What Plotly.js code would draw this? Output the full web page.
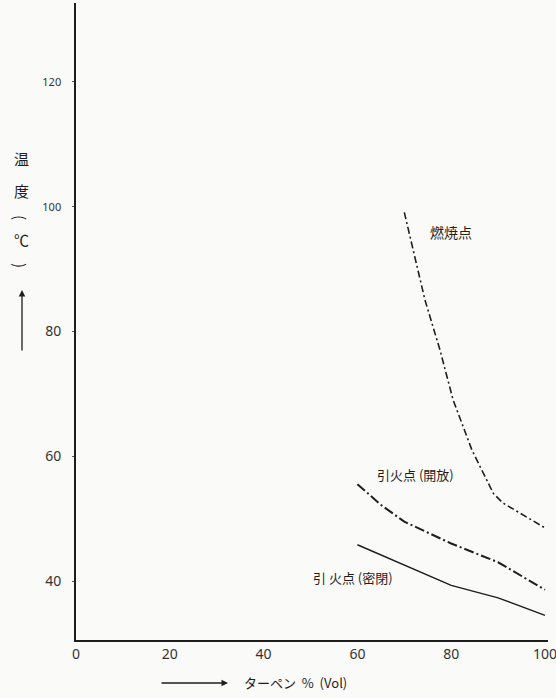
<!DOCTYPE html>
<html><head><meta charset="utf-8">
<script src="https://cdn.plot.ly/plotly-3.0.1.min.js"></script>
<style>html,body{margin:0;padding:0;background:#fafaf8;}</style>
</head><body>
<div id="chart" style="width:556px;height:698px;"></div>
<script>
// Data
const xTicks = [0, 20, 40, 60, 80, 100];
const yTicks = [40, 60, 80, 100, 120];

const burnX = [70, 74.4, 77.6, 80.4, 84.4, 89, 91, 100];
const burnY = [99, 85, 77, 69, 61, 54, 52.5, 48.5];

const openX = [60, 65, 70, 80, 90, 100];
const openY = [55.5, 52.2, 49.5, 46, 43, 38.6];

const closedX = [60, 70, 80, 90, 100];
const closedY = [45.8, 42.5, 39.3, 37.3, 34.5];

const labelBurn = "燃焼点";
const labelOpen = "引火点 (開放)";
const labelClosed = "引 火点 (密閉)";
const xTitle = "ターペン  %  (Vol)";
const yTitleChars = ["温", "度", "(", "℃", ")"];

const JP = '"Noto Sans CJK JP", "Noto Sans", sans-serif';
const NUM = '"Noto Sans", "DejaVu Sans", sans-serif';
const ink = "#1e1e1e";

const L = 76, R = 8, T = 3, B = 58, W = 556, H = 698;
const pw = W - L - R, ph = H - T - B;
const px2x = p => (p - L) / pw;
const py2y = p => (H - B - p) / ph;

const traces = [
  {x: burnX, y: burnY, mode: "lines", line: {color: ink, width: 1.6, dash: "7px,3px,2px,3px"}, hoverinfo: "skip"},
  {x: openX, y: openY, mode: "lines", line: {color: ink, width: 2, dash: "10px,3px,2px,3px"}, hoverinfo: "skip"},
  {x: closedX, y: closedY, mode: "lines", line: {color: ink, width: 1.5}, hoverinfo: "skip"}
];

const annotations = [
  {x: 80, y: 95.8, xref: "x", yref: "y", xanchor: "center", yanchor: "middle", text: labelBurn, showarrow: false, font: {family: JP, size: 14, color: ink}},
  {x: 72.3, y: 57, xref: "x", yref: "y", xanchor: "center", yanchor: "middle", text: labelOpen, showarrow: false, font: {family: JP, size: 13, color: ink}},
  {x: 59.1, y: 40.5, xref: "x", yref: "y", xanchor: "center", yanchor: "middle", text: labelClosed, showarrow: false, font: {family: JP, size: 13, color: ink}},
  {x: px2x(242), y: py2y(683), xref: "paper", yref: "paper", xanchor: "left", yanchor: "middle", text: xTitle, showarrow: false, font: {family: JP, size: 13, color: ink}},
  // x-title arrow
  {x: px2x(228), y: py2y(683), xref: "paper", yref: "paper", ax: -68, ay: 0, text: "", showarrow: true, arrowhead: 2, arrowsize: 1, arrowwidth: 1.3, arrowcolor: ink},
  // y-title arrow
  {x: px2x(22), y: py2y(290), xref: "paper", yref: "paper", ax: 0, ay: 62, text: "", showarrow: true, arrowhead: 2, arrowsize: 1, arrowwidth: 1.3, arrowcolor: ink}
];
const yCharPos = [158, 190, 217, 239, 265];
const yCharAngle = [0, 0, 90, 0, 90];
yTitleChars.forEach((c, i) => {
  annotations.push({x: px2x(21), y: py2y(yCharPos[i]), xref: "paper", yref: "paper", xanchor: "center", yanchor: "middle",
    text: c, textangle: yCharAngle[i], showarrow: false, font: {family: JP, size: 15, color: ink}});
});

const yTickText = yTicks.map(v => v >= 100 ? '<span style="font-size:11px">' + v + '</span>' : String(v));

const layout = {
  width: W, height: H,
  margin: {l: L, r: R, t: T, b: B},
  paper_bgcolor: "#fafaf8", plot_bgcolor: "#fafaf8",
  showlegend: false,
  xaxis: {range: [0, 100.64], tickvals: xTicks, ticktext: xTicks.map(String), showgrid: false, zeroline: false,
          showline: true, linecolor: ink, linewidth: 2, ticks: "", ticklabeloverflow: "allow",
          tickfont: {family: NUM, size: 14, color: "#333"}},
  yaxis: {range: [30.56, 132.5], tickvals: yTicks, ticktext: yTickText, showgrid: false, zeroline: false,
          showline: true, linecolor: ink, linewidth: 2, ticks: "outside", ticklen: 2, tickcolor: "#555",
          ticklabelstandoff: 8, tickfont: {family: NUM, size: 14, color: "#333"}},
  annotations: annotations
};

Plotly.newPlot("chart", traces, layout, {staticPlot: true, displayModeBar: false});
</script>
</body></html>
